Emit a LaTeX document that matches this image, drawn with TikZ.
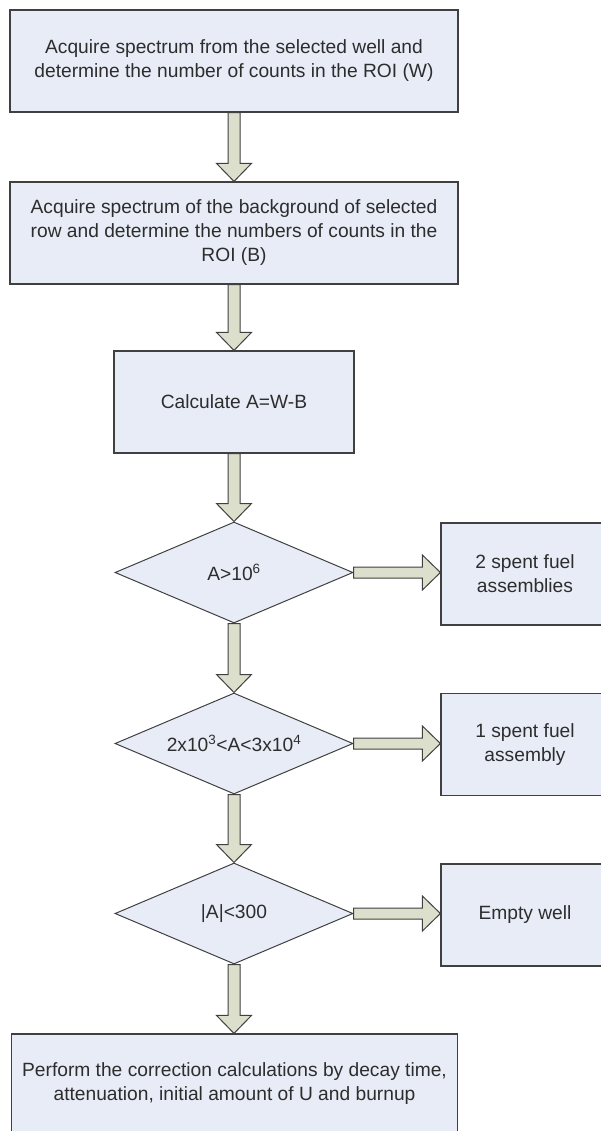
\documentclass[tikz,border=0pt]{standalone}
\usepackage{fontspec}
\setmainfont{Liberation Sans}
\usetikzlibrary{shapes.geometric,calc}
\definecolor{boxfill}{RGB}{231,236,247}
\definecolor{arrfill}{RGB}{220,223,203}
\definecolor{edgec}{RGB}{64,64,64}
\definecolor{txtc}{RGB}{45,45,45}
\tikzset{
  procbox/.style={draw=edgec, fill=boxfill, line width=1.2pt, rectangle, inner sep=0pt,
    align=center, text=txtc, font=\fontsize{19.2}{24}\selectfont},
  decbox/.style={draw=edgec, fill=boxfill, line width=1pt, diamond, inner sep=0pt,
    minimum width=238pt, minimum height=101pt, text=txtc, font=\fontsize{19.2}{24}\selectfont},
  blockarr/.style={draw=edgec, fill=arrfill, line width=1pt, line join=miter},
}
\newcommand{\varr}[2]{\draw[blockarr] let \p1=(#1.south), \p2=(#2.north) in
  (\x1-6pt,\y1) -- (\x1-6pt,\y2+18pt) -- (\x1-17.5pt,\y2+18pt) -- (\x1,\y2) --
  (\x1+17.5pt,\y2+18pt) -- (\x1+6pt,\y2+18pt) -- (\x1+6pt,\y1) -- cycle;}
\newcommand{\harr}[2]{\draw[blockarr] let \p1=(#1.east), \p2=(#2.west) in
  (\x1,\y1-5.5pt) -- (\x2-18pt,\y1-5.5pt) -- (\x2-18pt,\y1-17.5pt) -- (\x2,\y1) --
  (\x2-18pt,\y1+17.5pt) -- (\x2-18pt,\y1+5.5pt) -- (\x1,\y1+5.5pt) -- cycle;}
\begin{document}
\begin{tikzpicture}[x=1pt,y=-1pt]
\useasboundingbox (0,0) rectangle (601,1131);
\clip (0,0) rectangle (601,1131);
\node[procbox, minimum width=448pt, minimum height=102pt] (b1) at (234,61)
  {Acquire spectrum from the selected well and\\determine the number of counts in the ROI (W)};
\node[procbox, minimum width=448pt, minimum height=102pt] (b2) at (234,233)
  {Acquire spectrum of the background of selected\\row and determine the numbers of counts in the\\ROI (B)};
\node[procbox, minimum width=240pt, minimum height=102pt] (b3) at (234,402)
  {Calculate A=W-B};
\node[decbox] (d1) at (234,572.5) {\makebox[0pt]{A>10\textsuperscript{6}}};
\node[decbox] (d2) at (234,743.5) {\makebox[0pt]{2x10\textsuperscript{3}<A<3x10\textsuperscript{4}}};
\node[decbox] (d3) at (234,913.5) {\makebox[0pt]{|A|<300}};
\node[procbox, minimum width=168pt, minimum height=102pt] (r1) at (525,574)
  {2 spent fuel\\assemblies};
\node[procbox, minimum width=168pt, minimum height=102pt] (r2) at (525,744.5)
  {1 spent fuel\\assembly};
\node[procbox, minimum width=168pt, minimum height=102pt] (r3) at (525,915)
  {Empty well};
\node[procbox, minimum width=446pt, minimum height=100pt] (b4) at (234.5,1084)
  {Perform the correction calculations by decay time,\\attenuation, initial amount of U and burnup};
\varr{b1}{b2}
\varr{b2}{b3}
\varr{b3}{d1}
\varr{d1}{d2}
\varr{d2}{d3}
\varr{d3}{b4}
\harr{d1}{r1}
\harr{d2}{r2}
\harr{d3}{r3}
\end{tikzpicture}
\end{document}
